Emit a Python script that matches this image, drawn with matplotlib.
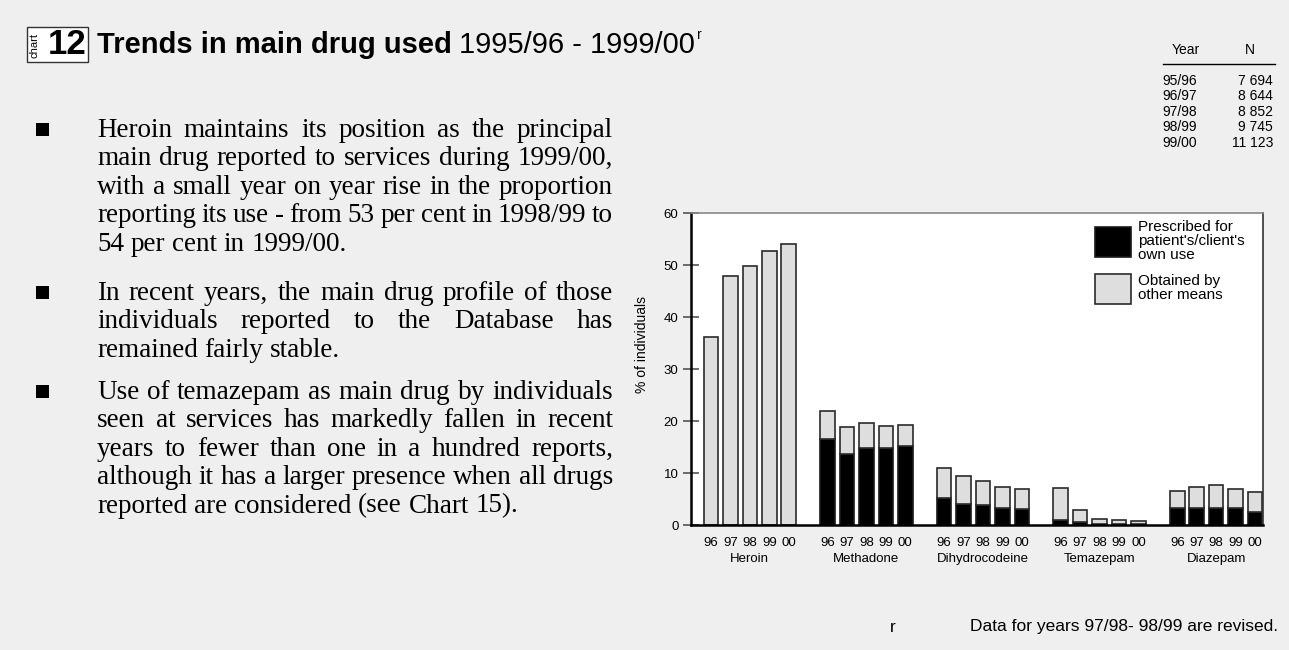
import numpy as np
import matplotlib
matplotlib.use("Agg")
import matplotlib.pyplot as plt
from matplotlib.patches import Rectangle

# chart data (% of individuals)
years = ['96', '97', '98', '99', '00']
drugs = ['Heroin', 'Methadone', 'Dihydrocodeine', 'Temazepam', 'Diazepam']
prescribed = [
    [0.0, 0.0, 0.0, 0.0, 0.0],        # Heroin
    [16.5, 13.7, 14.8, 14.9, 15.2],   # Methadone
    [5.2, 4.0, 3.8, 3.2, 3.0],        # Dihydrocodeine
    [1.0, 0.5, 0.2, 0.2, 0.2],        # Temazepam
    [3.3, 3.2, 3.2, 3.3, 2.5],        # Diazepam
]
other_means = [
    [36.1, 47.9, 49.8, 52.6, 54.1],
    [5.5, 5.2, 4.9, 4.1, 4.0],
    [5.7, 5.4, 4.7, 4.2, 3.9],
    [6.1, 2.3, 0.95, 0.7, 0.5],
    [3.2, 4.1, 4.4, 3.7, 3.9],
]
legend_labels = ["Prescribed for\npatient's/client's\nown use", "Obtained by\nother means"]

# sample sizes table
table_years = ['95/96', '96/97', '97/98', '98/99', '99/00']
table_n = ['7 694', '8 644', '8 852', '9 745', '11 123']

para1 = ["Heroin maintains its position as the principal",
         "main drug reported to services during 1999/00,",
         "with a small year on year rise in the proportion",
         "reporting its use - from 53 per cent in 1998/99 to",
         "54 per cent in 1999/00."]
para2 = ["In recent years, the main drug profile of those",
         "individuals reported to the Database has",
         "remained fairly stable."]
para3 = ["Use of temazepam as main drug by individuals",
         "seen at services has markedly fallen in recent",
         "years to fewer than one in a hundred reports,",
         "although it has a larger presence when all drugs",
         "reported are considered (see Chart 15)."]

W, H = 1289, 650
BG = '#efefef'
SANS = 'Liberation Sans'
SERIF = 'Liberation Serif'


def fx(x):
    return x / W


def fy(y):
    return 1 - y / H


fig = plt.figure(figsize=(W / 100, H / 100), dpi=100, facecolor=BG)
ax = fig.add_axes([fx(691), fy(525), fx(1263) - fx(691), fy(213) - fy(525)])
ax.set_facecolor('white')

bar_w = 0.75
for g, drug in enumerate(drugs):
    xs = g * 6 + np.arange(len(years))
    b1 = ax.bar(xs, prescribed[g], width=bar_w, color='black',
                edgecolor='#1a1a1a', linewidth=1.2)
    b2 = ax.bar(xs, other_means[g], bottom=prescribed[g], width=bar_w,
                color='#dedede', edgecolor='#2a2a2a', linewidth=1.2)
    if g == 1:
        handles = [b1, b2]

ax.set_xlim(-1.03, 28.41)
ax.set_ylim(0, 60)
ax.set_yticks(range(0, 61, 10))
ax.tick_params(axis='y', direction='inout', length=12, width=1.2,
               color='#555555', labelsize=9.5, pad=3)
for lab in ax.get_yticklabels():
    lab.set_family(SANS)

ax.xaxis.remove_overlapping_locs = False
xt = [g * 6 + i for g in range(len(drugs)) for i in range(len(years))]
ax.set_xticks(xt)
ax.set_xticklabels(years * len(drugs), fontsize=9.5, family=SANS)
ax.set_xticks([g * 6 + 2 for g in range(len(drugs))], minor=True)
ax.set_xticklabels(drugs, minor=True, fontsize=9.5, family=SANS)
ax.tick_params(axis='x', which='major', length=0, pad=9)
ax.tick_params(axis='x', which='minor', length=0, pad=20)

ax.spines['left'].set_linewidth(1.8)
ax.spines['bottom'].set_linewidth(1.8)
ax.spines['top'].set_color('#888888')
ax.spines['top'].set_linewidth(1.2)
ax.spines['right'].set_color('#333333')
ax.spines['right'].set_linewidth(1.2)

ax.set_ylabel('% of individuals', fontsize=10, family=SANS)
ax.yaxis.set_label_coords(-0.073, 0.58)

leg = ax.legend(handles, legend_labels, loc='upper left',
                bbox_to_anchor=(0.706, 0.978), frameon=False,
                prop={'family': SANS, 'size': 11},
                handlelength=2.35, handleheight=2.6, handletextpad=0.45,
                labelspacing=0.75, borderpad=0, borderaxespad=0)
for t in leg.get_texts():
    t.set_linespacing(1.02)

# title block
fig.patches.append(Rectangle((fx(27), fy(62)), fx(88) - fx(27), fy(27) - fy(62),
                             transform=fig.transFigure, facecolor='white',
                             edgecolor='#333333', linewidth=1))
fig.text(fx(35), fy(45), 'chart', rotation=90, fontsize=8, family=SANS,
         ha='center', va='center')
fig.text(fx(67), fy(45), '12', fontsize=25, fontweight='bold', family=SANS,
         ha='center', va='center')
r = fig.canvas.get_renderer()
t1 = fig.text(fx(97), fy(53), 'Trends in main drug used', fontsize=21,
              fontweight='bold', family=SANS, va='baseline')
e = t1.get_window_extent(r)
t2 = fig.text(fx(e.x1 + 7), fy(53), '1995/96 - 1999/00', fontsize=21,
              family=SANS, va='baseline')
e2 = t2.get_window_extent(r)
fig.text(fx(e2.x1 + 2), fy(39), 'r', fontsize=10, family=SANS, va='baseline')

# year / N table
fig.text(fx(1172), fy(50), 'Year', fontsize=10, family=SANS, va='center')
fig.text(fx(1250), fy(50), 'N', fontsize=10, family=SANS, va='center', ha='center')
fig.lines.append(plt.Line2D([fx(1163), fx(1275)], [fy(64), fy(64)],
                            transform=fig.transFigure, color='black', lw=1))
for i, (yr, n) in enumerate(zip(table_years, table_n)):
    yy = 81 + 15.4 * i
    fig.text(fx(1162), fy(yy), yr, fontsize=10, family=SANS, va='center')
    fig.text(fx(1273), fy(yy), n, fontsize=10, family=SANS, va='center', ha='right')

# footnote
fig.text(fx(890), fy(627), 'r', fontsize=12.5, family=SANS, va='center')
fig.text(fx(1278), fy(627), 'Data for years 97/98- 98/99 are revised.',
         fontsize=12.5, family=SANS, va='center', ha='right')

# justified bullet paragraphs
X0, X1 = 97, 613
FS = 19.5
LH = 28.4
sp = fig.text(0, 0, 'a a', fontsize=FS, family=SERIF)
sq = fig.text(0, 0, 'aa', fontsize=FS, family=SERIF)
space_w = sp.get_window_extent(r).width - sq.get_window_extent(r).width
sp.remove()
sq.remove()


def paragraph(lines, y0):
    fig.patches.append(Rectangle((fx(36), fy(y0 - 1)), fx(13), fy(0) - fy(13),
                                 transform=fig.transFigure, facecolor='black',
                                 edgecolor='none'))
    for i, line in enumerate(lines):
        y = y0 + i * LH
        arts = [fig.text(0, fy(y), w, fontsize=FS, family=SERIF, va='baseline')
                for w in line.split(' ')]
        widths = [a.get_window_extent(r).width for a in arts]
        if i == len(lines) - 1:
            gap = space_w
        else:
            gap = (X1 - X0 - sum(widths)) / (len(arts) - 1)
        x = X0
        for a, w in zip(arts, widths):
            a.set_x(fx(x))
            x += w + gap


paragraph(para1, 137)
paragraph(para2, 300)
paragraph(para3, 399)

fig.savefig('out.png', dpi=100, facecolor=BG)
